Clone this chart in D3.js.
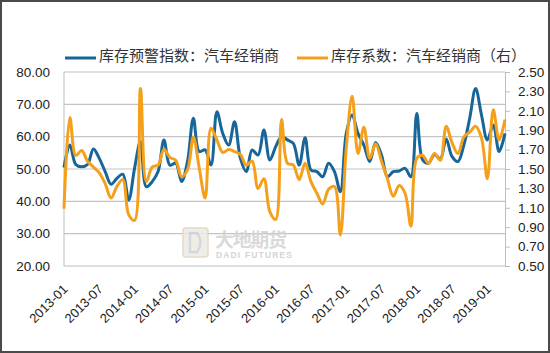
<!DOCTYPE html>
<html>
<head>
<meta charset="utf-8">
<script src="https://cdn.jsdelivr.net/npm/d3@7"></script>
<style>
  body { margin: 0; background: #fff; }
  svg text { font-family: "Liberation Sans", Arial, sans-serif; }
  .legend text { font-family: "Noto Sans CJK SC", sans-serif; }
</style>
</head>
<body>
<svg width="550" height="353"></svg>
<script>
// monthly data, 2013-01 .. 2019-04
var seriesNames = ['库存预警指数：汽车经销商', '库存系数：汽车经销商（右）'];

var warningIndex = [
  50.5, 57.4, 51.4, 50.7, 51.4, 56.2, 53.3, 49.2, 45.3, 47.1, 48.4, 40.4,
  50.2, 58.5, 44.5, 46.1, 49.2, 59.0, 51.2, 51.8, 46.1, 52.3, 65.7, 55.4,
  55.9, 51.2, 67.7, 61.0, 57.4, 64.6, 53.3, 49.2, 55.9, 54.3, 62.1, 52.8,
  56.9, 60.0, 59.0, 57.9, 51.2, 59.7, 49.7, 49.2, 47.6, 51.8, 49.2, 43.0,
  61.0, 66.7, 61.0, 57.4, 52.3, 58.2, 54.3, 47.6, 49.2, 49.4, 50.2, 47.6,
  67.2, 52.8, 51.8, 54.5, 53.1, 59.3, 53.8, 52.3, 57.4, 65.7, 74.9, 66.7,
  59.0, 63.6, 55.4, 61.0
];

var inventoryCoef = [
  1.09, 2.03, 1.64, 1.69, 1.58, 1.52, 1.46, 1.35, 1.20, 1.32, 1.39, 1.03,
  0.97, 2.33, 1.37, 1.52, 1.54, 1.70, 1.62, 1.59, 1.42, 1.49, 1.83, 1.51,
  1.20, 1.92, 1.80, 1.67, 1.70, 1.68, 1.65, 1.54, 1.58, 1.30, 1.40, 1.06,
  0.98, 2.01, 1.56, 1.54, 1.39, 1.56, 1.37, 1.25, 1.14, 1.29, 1.32, 0.82,
  1.71, 2.25, 1.66, 1.93, 1.61, 1.76, 1.58, 1.40, 1.22, 1.33, 1.25, 0.91,
  1.61, 1.64, 1.56, 1.66, 1.59, 1.94, 1.77, 1.66, 1.83, 1.88, 1.94, 1.82,
  1.40, 2.11, 1.80, 2.01
];

var xTickLabels = ['2013-01', '2013-07', '2014-01', '2014-07', '2015-01', '2015-07', '2016-01',
                   '2016-07', '2017-01', '2017-07', '2018-01', '2018-07', '2019-01'];
var leftTicks = [20, 30, 40, 50, 60, 70, 80];
var rightTicks = [0.5, 0.7, 0.9, 1.1, 1.3, 1.5, 1.7, 1.9, 2.1, 2.3, 2.5];

drawChart();

function drawChart() {
  var fmtMonth = d3.timeFormat('%Y-%m');
  var months = d3.timeMonth.range(new Date(2013, 0, 1), new Date(2013, warningIndex.length, 1)).map(fmtMonth);

  var svg = d3.select('svg');
  var plotLeft = 64, plotRight = 505, plotTop = 72, plotBottom = 266;

  var x = d3.scalePoint().domain(months).range([plotLeft, plotRight]);
  var yL = d3.scaleLinear().domain([20, 80]).range([plotBottom, plotTop]);
  var yR = d3.scaleLinear().domain([0.5, 2.5]).range([plotBottom, plotTop]);

  // frame
  svg.append('rect')
    .attr('x', 1).attr('y', 1).attr('width', 548).attr('height', 351)
    .attr('fill', '#fff').attr('stroke', '#4a4a4a').attr('stroke-width', 2);

  // gridlines
  svg.append('g')
    .selectAll('line')
    .data(leftTicks.slice(1))
    .enter()
    .append('line')
      .attr('x1', plotLeft).attr('x2', plotRight)
      .attr('y1', d => yL(d)).attr('y2', d => yL(d))
      .attr('stroke', '#c4c4c4').attr('stroke-width', 1.2);

  // watermark
  var wm = svg.append('g').attr('opacity', 0.85);
  wm.append('rect')
    .attr('x', 183).attr('y', 228).attr('width', 25).attr('height', 29).attr('rx', 3)
    .attr('fill', '#eeeae2').attr('stroke', '#ddd4c2').attr('stroke-width', 1.5);
  wm.append('path')
    .attr('d', 'M190,233 L197,233 Q204,242 197,252 L190,252 Z')
    .attr('fill', 'none').attr('stroke', '#c9d2de').attr('stroke-width', 2.5);
  wm.append('text')
    .attr('x', 215).attr('y', 247)
    .style('font-family', '"Noto Sans CJK SC", sans-serif')
    .style('font-size', '19px').style('font-weight', 'bold')
    .attr('fill', '#d3d3d3')
    .attr('textLength', 72)
    .text('大地期货');
  wm.append('text')
    .attr('x', 216).attr('y', 258)
    .style('font-size', '8.5px').style('font-weight', 'bold')
    .attr('fill', '#cdcdcd')
    .attr('textLength', 76)
    .text('DADI FUTURES');

  // axes
  var axisColor = '#bdbdbd';
  svg.append('line')
    .attr('x1', plotLeft).attr('x2', plotLeft).attr('y1', plotTop).attr('y2', plotBottom)
    .attr('stroke', axisColor);
  svg.append('line')
    .attr('x1', plotLeft).attr('x2', plotRight).attr('y1', plotBottom).attr('y2', plotBottom)
    .attr('stroke', axisColor);

  var gL = svg.append('g')
    .attr('transform', 'translate(' + plotLeft + ',0)')
    .call(d3.axisLeft(yL).tickValues(leftTicks).tickFormat(d3.format('.2f')).tickSize(0).tickPadding(14));
  gL.select('.domain').remove();
  gL.selectAll('text').style('font-size', '13.5px').attr('fill', '#222');

  var gR = svg.append('g')
    .attr('transform', 'translate(' + plotRight + ',0)')
    .call(d3.axisRight(yR).tickValues(rightTicks).tickFormat(d3.format('.2f')).tickSize(5).tickPadding(8).tickSizeOuter(0));
  gR.select('.domain').attr('stroke', axisColor);
  gR.selectAll('.tick line').attr('stroke', axisColor);
  gR.selectAll('text').style('font-size', '13.5px').attr('fill', '#222');

  var gX = svg.append('g')
    .attr('transform', 'translate(0,' + plotBottom + ')')
    .call(d3.axisBottom(x).tickValues(xTickLabels).tickSize(0));
  gX.select('.domain').remove();
  gX.selectAll('text')
    .style('font-size', '13px').attr('fill', '#222')
    .attr('text-anchor', 'end')
    .attr('dy', 0)
    .attr('y', 0)
    .attr('transform', 'translate(4,24) rotate(-45)');

  // lines
  var curve = d3.curveCatmullRom.alpha(0.5);
  var lineL = d3.line().x((d, i) => x(months[i])).y(d => yL(d)).curve(curve);
  var lineR = d3.line().x((d, i) => x(months[i])).y(d => yR(d)).curve(curve);

  svg.append('path')
    .datum(warningIndex)
    .attr('d', lineL)
    .attr('fill', 'none').attr('stroke', '#17669a').attr('stroke-width', 3)
    .attr('stroke-linejoin', 'round');

  svg.append('path')
    .datum(inventoryCoef)
    .attr('d', lineR)
    .attr('fill', 'none').attr('stroke', '#f5a01a').attr('stroke-width', 3)
    .attr('stroke-linejoin', 'round');

  // legend
  var legend = svg.append('g').attr('class', 'legend');
  var legendItems = [
    {name: seriesNames[0], color: '#17669a', x: 65},
    {name: seriesNames[1], color: '#f5a01a', x: 297}
  ];
  legendItems.forEach(function(item) {
    legend.append('line')
      .attr('x1', item.x).attr('x2', item.x + 31).attr('y1', 58).attr('y2', 58)
      .attr('stroke', item.color).attr('stroke-width', 3);
    legend.append('text')
      .attr('x', item.x + 34).attr('y', 61)
      .style('font-size', '15px').attr('fill', '#333')
      .text(item.name);
  });
}
</script>
</body>
</html>
